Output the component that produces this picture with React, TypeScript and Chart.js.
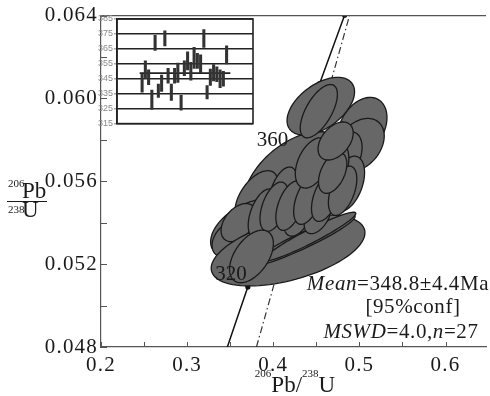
import React, { useEffect, useRef } from 'react';
import { Chart, registerables } from 'chart.js';
Chart.register(...registerables);

// Concordia curve (age in Ma, 207Pb/235U, 206Pb/238U)
const concordiaAges = [300, 310, 320, 330, 340, 350, 360, 370, 380, 390, 400];
const concordia207 = [0.34374, 0.35704, 0.37047, 0.38403, 0.39773, 0.41156, 0.42553, 0.43964, 0.45389, 0.46828, 0.48281];
const concordia206 = [0.047637, 0.049264, 0.050893, 0.052524, 0.054158, 0.055795, 0.057434, 0.059076, 0.06072, 0.062366, 0.064016];
const concordiaLabelAges = [320, 360];

// dash-dot reference line
const refLine207 = [0.3805, 0.4885];
const refLine206 = [0.048, 0.064];

// error ellipses (draw order): centre, half extents, correlation
const ellX = [0.5034, 0.5000, 0.4816, 0.4862, 0.4264, 0.3805, 0.3713, 0.3506, 0.3598, 0.4172, 0.4345, 0.4425, 0.4115, 0.3874, 0.4011, 0.4287, 0.4195, 0.4517, 0.4402, 0.4609, 0.4805, 0.3747, 0.4460, 0.4690, 0.4724, 0.4552, 0.4529];
const ellY = [0.058618, 0.057754, 0.057129, 0.055880, 0.056024, 0.055255, 0.053717, 0.053237, 0.054006, 0.052660, 0.053141, 0.053333, 0.055543, 0.054438, 0.054774, 0.054342, 0.054822, 0.054342, 0.055111, 0.055255, 0.055543, 0.052372, 0.056889, 0.056408, 0.057946, 0.059627, 0.059387];
const ellXErr = [0.02862, 0.02885, 0.02152, 0.01982, 0.06139, 0.02486, 0.04402, 0.02164, 0.0204, 0.08926, 0.06053, 0.05338, 0.01626, 0.0165, 0.0165, 0.01645, 0.0165, 0.01587, 0.0165, 0.0165, 0.0165, 0.02545, 0.0204, 0.01645, 0.0204, 0.0392, 0.02156];
const ellYErr = [0.001432, 0.001281, 0.001262, 0.001332, 0.002371, 0.00126, 0.00142, 0.000905, 0.000918, 0.001712, 0.00123, 0.001173, 0.001146, 0.00119, 0.00119, 0.000988, 0.00119, 0.000873, 0.00119, 0.00119, 0.00119, 0.00127, 0.001214, 0.000988, 0.000918, 0.001393, 0.001287];
const ellRho = [0.32, 0.34, 0.41, 0.41, 0.45, 0.53, 0.45, 0.37, 0.42, 0.50, 0.94, 0.95, 0.46, 0.48, 0.48, 0.44, 0.48, 0.48, 0.48, 0.48, 0.48, 0.49, 0.43, 0.44, 0.42, 0.50, 0.63];

// inset: weighted mean ages (Ma) and errors
const insetAges = [342, 351, 346, 331, 369, 337, 342, 372, 347, 336, 347, 349, 329, 352, 357, 350, 359, 357, 355, 372, 336, 346, 349, 348, 345, 345, 361];
const insetErr = [6, 6, 5, 6.5, 5, 4.5, 5.5, 5, 5, 5.5, 5, 6.5, 5, 5, 6, 6, 7, 5, 6, 6, 4.5, 5.5, 5.5, 5, 6, 5, 6];
const weightedMean = 348.8;

const SERIF = '"Liberation Serif", "Times New Roman", serif';

function drawSegments(ctx: CanvasRenderingContext2D, segs: [string, string][], cx: number, by: number) {
  let total = 0;
  const widths = segs.map(([t, f]) => { ctx.font = f; const w = ctx.measureText(t).width; total += w; return w; });
  let x = cx - total / 2;
  ctx.textAlign = 'left';
  ctx.textBaseline = 'alphabetic';
  segs.forEach(([t, f], i) => { ctx.font = f; ctx.fillText(t, x, by); x += widths[i]; });
}

const labelShift: Record<number, [number, number]> = { 320: [-1, -13], 360: [-7, -11] };

const mainPlugin = {
  id: 'mainDecor',
  beforeDraw(chart: any) {
    (chart.ctx as any).letterSpacing = '1.2px';
  },
  beforeDatasetsDraw(chart: any) {
    (chart.ctx as any).letterSpacing = '0px';
  },
  afterDatasetsDraw(chart: any) {
    const { ctx, chartArea: ca, scales } = chart;
    const xs = scales.x, ys = scales.y;
    ctx.save();
    ctx.beginPath();
    ctx.rect(ca.left, ca.top, ca.right - ca.left, ca.bottom - ca.top);
    ctx.clip();
    ctx.fillStyle = '#676767';
    ctx.strokeStyle = '#1a1a1a';
    ctx.lineWidth = 1.3;
    for (let i = 0; i < ellX.length; i++) {
      const r = ellRho[i];
      const s = Math.sqrt(1 - r * r);
      ctx.beginPath();
      for (let k = 0; k <= 90; k++) {
        const t = (k / 90) * Math.PI * 2;
        const vx = ellX[i] + ellXErr[i] * Math.cos(t);
        const vy = ellY[i] + ellYErr[i] * (r * Math.cos(t) + s * Math.sin(t));
        const px = xs.getPixelForValue(vx);
        const py = ys.getPixelForValue(vy);
        if (k === 0) ctx.moveTo(px, py); else ctx.lineTo(px, py);
      }
      ctx.closePath();
      ctx.fill();
      ctx.stroke();
    }
    // concordia age labels
    ctx.fillStyle = '#1a1a1a';
    ctx.font = '21px ' + SERIF;
    ctx.textAlign = 'right';
    ctx.textBaseline = 'middle';
    concordiaLabelAges.forEach((a) => {
      const i = concordiaAges.indexOf(a);
      const px = xs.getPixelForValue(concordia207[i]);
      const py = ys.getPixelForValue(concordia206[i]);
      const [dx, dy] = labelShift[a] || [-4, -12];
      ctx.fillText(String(a), px + dx, py + dy);
    });
    ctx.restore();
  },
  afterDraw(chart: any) {
    const { ctx, chartArea: ca, scales } = chart;
    const xs = scales.x, ys = scales.y;
    ctx.save();
    (ctx as any).letterSpacing = '0px';
    ctx.strokeStyle = '#555';
    ctx.lineWidth = 1.2;
    // top frame line
    ctx.beginPath();
    ctx.moveTo(ca.left, ca.top);
    ctx.lineTo(ca.right, ca.top);
    ctx.stroke();
    // inward ticks
    ctx.lineWidth = 1;
    xs.ticks.forEach((t: any) => {
      const px = Math.round(xs.getPixelForValue(t.value)) + 0.5;
      ctx.beginPath(); ctx.moveTo(px, ca.bottom); ctx.lineTo(px, ca.bottom - 5); ctx.stroke();
    });
    ys.ticks.forEach((t: any) => {
      const py = Math.round(ys.getPixelForValue(t.value)) + 0.5;
      ctx.beginPath(); ctx.moveTo(ca.left, py); ctx.lineTo(ca.left + 6, py); ctx.stroke();
    });
    // axis titles
    ctx.fillStyle = '#1a1a1a';
    const big = '23px ' + SERIF;
    const small = '11px ' + SERIF;
    ctx.textAlign = 'left';
    ctx.textBaseline = 'alphabetic';
    ctx.font = small; ctx.fillText('206', 8, 187);
    ctx.font = big; ctx.fillText('Pb', 22, 198);
    ctx.font = small; ctx.fillText('238', 8, 213);
    ctx.font = big; ctx.fillText('U', 22, 217);
    ctx.strokeStyle = '#1a1a1a';
    ctx.lineWidth = 1;
    ctx.beginPath(); ctx.moveTo(7, 201.5); ctx.lineTo(47, 201.5); ctx.stroke();
    const parts: [string, string, number][] = [['206', small, -15], ['Pb/', big, 0], ['238', small, -15], ['U', big, 0]];
    let tot = 0;
    const ws = parts.map(([t, f]) => { ctx.font = f; const w = ctx.measureText(t).width; tot += w; return w; });
    let x0 = 295 - tot / 2;
    parts.forEach(([t, f, dy], i) => { ctx.font = f; ctx.fillText(t, x0, 392 + dy); x0 += ws[i]; });
    // statistics
    const it = 'italic 21px ' + SERIF;
    const rm = '21px ' + SERIF;
    (ctx as any).letterSpacing = '0.6px';
    drawSegments(ctx, [['Mean', it], ['=348.8±4.4Ma', rm]], 398, 290);
    drawSegments(ctx, [['[95%conf]', rm]], 413, 313);
    drawSegments(ctx, [['MSWD', it], ['=4.0,', rm], ['n', it], ['=27', rm]], 401, 338);
    (ctx as any).letterSpacing = '0px';
    ctx.restore();
  },
};

const insetPlugin = {
  id: 'insetFrame',
  afterDraw(chart: any) {
    const { ctx, chartArea: ca } = chart;
    ctx.save();
    ctx.strokeStyle = '#222';
    ctx.lineWidth = 1.6;
    ctx.strokeRect(ca.left, ca.top, ca.right - ca.left, ca.bottom - ca.top);
    ctx.restore();
  },
};

export default function App() {
  const mainRef = useRef<HTMLCanvasElement>(null);
  const insetRef = useRef<HTMLCanvasElement>(null);

  useEffect(() => {
    const main = new Chart(mainRef.current as HTMLCanvasElement, {
      type: 'scatter',
      data: {
        datasets: [
          {
            type: 'line',
            data: concordiaAges.map((a, i) => ({ x: concordia207[i], y: concordia206[i] })),
            borderColor: '#111',
            borderWidth: 1.5,
            pointRadius: concordiaAges.map((a) => (a % 20 === 0 ? 2.6 : 0)),
            pointBackgroundColor: '#111',
            pointBorderWidth: 0,
            tension: 0,
            fill: false,
          } as any,
          {
            type: 'line',
            data: refLine207.map((v, i) => ({ x: v, y: refLine206[i] })),
            borderColor: '#333',
            borderWidth: 1.2,
            borderDash: [7, 3, 1.5, 3],
            pointRadius: 0,
            fill: false,
          } as any,
        ],
      },
      options: {
        animation: false,
        responsive: false,
        devicePixelRatio: 1,
        events: [],
        layout: { padding: { top: 14, right: 0, left: 0, bottom: 0 } },
        plugins: { legend: { display: false }, tooltip: { enabled: false } },
        scales: {
          x: {
            type: 'linear',
            min: 0.2,
            max: 0.647,
            grid: { display: false, drawTicks: false },
            border: { display: true, color: '#555', width: 1.2 },
            ticks: {
              stepSize: 0.05,
              includeBounds: false,
              autoSkip: false,
              maxRotation: 0,
              padding: 6,
              color: '#1a1a1a',
              font: { family: SERIF, size: 21 },
              callback: (v: any) => (Math.abs(v * 10 - Math.round(v * 10)) < 1e-6 ? Number(v).toFixed(1) : ''),
            },
            afterFit: (s: any) => { s.height = 49; },
          },
          y: {
            type: 'linear',
            min: 0.048,
            max: 0.064,
            grid: { display: false, drawTicks: false },
            border: { display: true, color: '#555', width: 1.2 },
            ticks: {
              stepSize: 0.002,
              includeBounds: false,
              autoSkip: false,
              padding: 3,
              color: '#1a1a1a',
              font: { family: SERIF, size: 21 },
              callback: (v: any) => (Math.abs(v / 0.004 - Math.round(v / 0.004)) < 1e-6 ? Number(v).toFixed(3) : ''),
            },
            afterFit: (s: any) => { s.width = 101; },
          },
        },
      } as any,
      plugins: [mainPlugin],
    });

    const inset = new Chart(insetRef.current as HTMLCanvasElement, {
      type: 'bar',
      data: {
        datasets: [
          {
            type: 'bar',
            data: insetAges.map((a, i) => ({ x: i + 1, y: [a - insetErr[i], a + insetErr[i]] })),
            backgroundColor: '#333',
            borderWidth: 0,
            barThickness: 2.4,
          } as any,
          {
            type: 'line',
            data: [{ x: 0.25, y: weightedMean }, { x: 28.15, y: weightedMean }],
            borderColor: '#222',
            borderWidth: 1.6,
            pointRadius: 0,
          } as any,
        ],
      },
      options: {
        animation: false,
        responsive: false,
        devicePixelRatio: 1,
        events: [],
        layout: { padding: { top: 7, right: 4, bottom: 6, left: 0 } },
        plugins: { legend: { display: false }, tooltip: { enabled: false } },
        scales: {
          x: { type: 'linear', min: 0.25, max: 28.15, display: false },
          y: {
            type: 'linear',
            min: 315,
            max: 385,
            grid: { color: '#222', lineWidth: 1.6, drawTicks: true, tickLength: 3, tickColor: '#aaa' },
            border: { display: true, color: '#222', width: 1.6 },
            ticks: { stepSize: 10, padding: 1, color: '#888', font: { family: '"Liberation Sans", Arial, sans-serif', size: 9 } },
            afterFit: (s: any) => { s.width = 22; },
          },
        },
      } as any,
      plugins: [insetPlugin],
    });

    return () => { main.destroy(); inset.destroy(); };
  }, []);

  return (
    <div style={{ position: 'absolute', left: 0, top: 0, width: 490, height: 396, background: '#fff' }}>
      <canvas ref={mainRef} width={490} height={396} style={{ position: 'absolute', left: 0, top: 0, display: 'block' }} />
      <canvas ref={insetRef} width={162} height={118} style={{ position: 'absolute', left: 95, top: 12, display: 'block' }} />
    </div>
  );
}
